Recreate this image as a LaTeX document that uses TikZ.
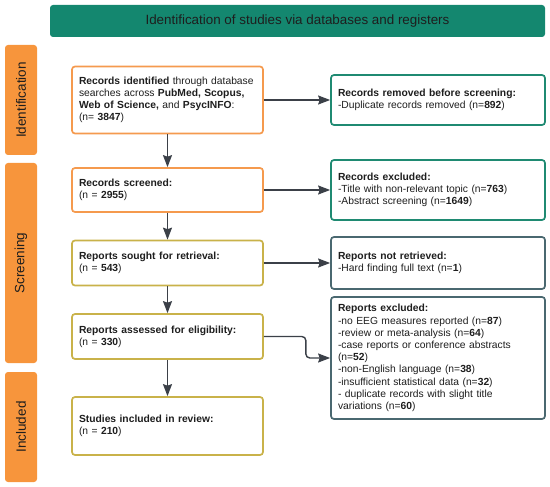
\documentclass[tikz,border=0pt]{standalone}
\usepackage{fontspec}
\setmainfont{Liberation Sans}
\usetikzlibrary{arrows.meta,positioning}

\definecolor{phaseorange}{HTML}{F7953C}
\definecolor{boxorange}{HTML}{F59A4E}
\definecolor{boxolive}{HTML}{C9B24A}
\definecolor{bannerteal}{HTML}{14876F}
\definecolor{boxteal}{HTML}{1F8A72}
\definecolor{boxslate}{HTML}{4A6870}
\definecolor{textdark}{HTML}{1E1E1E}
\definecolor{arrowgray}{HTML}{3B4048}

\begin{document}
\begin{tikzpicture}[x=1pt,y=-1pt,
  phase/.style={fill=phaseorange, rounded corners=3pt, rotate=90, minimum height=32pt,
    inner sep=0pt, text=textdark, font=\fontsize{13.5}{16}\selectfont},
  leftbox/.style={draw=boxorange, line width=1.7pt, rounded corners=3pt, fill=white,
    text width=177pt, inner sep=7pt, align=left, text=textdark,
    font=\fontsize{10.3}{12.2}\selectfont},
  rightbox/.style={draw=boxteal, line width=1.7pt, rounded corners=3pt, fill=white,
    text width=200pt, inner sep=7pt, align=left, text=textdark,
    font=\fontsize{10.3}{12.2}\selectfont},
  flow/.style={draw=arrowgray, line width=1.4pt, -{Stealth[length=12pt,width=9pt,inset=1.5pt]}}]
\useasboundingbox (0,0) rectangle (550,487);

% banner
\node[fill=bannerteal, rounded corners=3pt, minimum width=495pt, minimum height=32pt,
  text=textdark, font=\fontsize{13.4}{16}\selectfont] (banner) at (297.5,21)
  {Identification of studies via databases and registers};

% phases
\node[phase, minimum width=110pt] (identification) at (21,100) {Identification};
\node[phase, minimum width=200pt] (screening) at (21,263) {Screening};
\node[phase, minimum width=110pt] (included) at (21,427) {Included};

% left column
\node[leftbox, minimum height=67pt] (identified) at (167.5,100)
  {\textbf{Records identified} through database\\
   searches across \textbf{PubMed, Scopus,}\\
   \textbf{Web of Science,} and \textbf{PsycINFO}:\\
   (n= \textbf{3847})};
\node[leftbox, minimum height=44pt] (screened) at (167.5,190)
  {\textbf{Records screened:}\\ (n = \textbf{2955})};
\node[leftbox, draw=boxolive, minimum height=45pt] (sought) at (167.5,263)
  {\textbf{Reports sought for retrieval:}\\ (n = \textbf{543})};
\node[leftbox, draw=boxolive, minimum height=45pt] (assessed) at (167.5,336.5)
  {\textbf{Reports assessed for eligibility:}\\ (n = \textbf{330})};
\node[leftbox, draw=boxolive, minimum height=58pt] (studies) at (167.5,426)
  {\textbf{Studies included in review:}\\ (n = \textbf{210})};

% right column
\node[rightbox, minimum height=50pt] (removed) at (438,100)
  {\textbf{Records removed before screening:}\\
   -Duplicate records removed (n=\textbf{892})};
\node[rightbox, minimum height=60pt] (excluded) at (438,190)
  {\textbf{Records excluded:}\\
   -Title with non-relevant topic (n=\textbf{763})\\
   -Abstract screening (n=\textbf{1649})};
\node[rightbox, draw=boxslate, minimum height=52pt] (notretrieved) at (438,263)
  {\textbf{Reports not retrieved:}\\
   -Hard finding full text (n=\textbf{1})};
\node[rightbox, draw=boxslate, minimum height=122pt] (reportsexcl) at (438,358)
  {\textbf{Reports excluded:}\\
   -no EEG measures reported (n=\textbf{87})\\
   -review or meta-analysis (n=\textbf{64})\\
   -case reports or conference abstracts\\
   (n=\textbf{52})\\
   -non-English language (n=\textbf{38})\\
   -insufficient statistical data (n=\textbf{32})\\
   - duplicate records with slight title\\
   variations (n=\textbf{60})};

% down arrows
\draw[flow] (identified) -- (screened);
\draw[flow] (screened) -- (sought);
\draw[flow] (sought) -- (assessed);
\draw[flow] (assessed) -- (studies);

% side arrows
\draw[flow] (identified) -- (removed);
\draw[flow] (screened) -- (excluded);
\draw[flow] (sought) -- (notretrieved);
\draw[flow, rounded corners=4pt] (assessed.east) -- ++(42,0) |- (reportsexcl.west);
\end{tikzpicture}
\end{document}
